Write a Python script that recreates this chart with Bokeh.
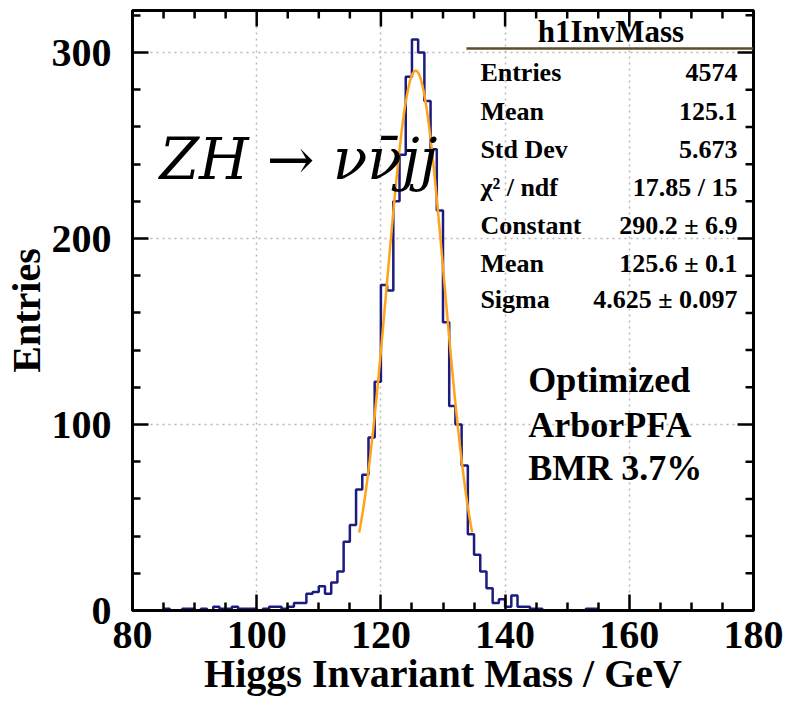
import numpy as np
from bokeh.plotting import figure
from bokeh.models import Range1d, FixedTicker, ColumnDataSource
from bokeh.core.properties import value
from bokeh.embed import file_html
from bokeh.resources import INLINE

# ---------------- data ----------------
bin_low = 80
bin_width = 1
counts = [
    0, 0, 0, 0, 0, 1, 0, 0, 1, 1,          # 80-89
    0, 1, 0, 2, 1, 1, 2, 1, 1, 1,          # 90-99
    0, 1, 2, 2, 1, 2, 4, 4, 9, 10,         # 100-109
    13, 9, 15, 21, 37, 46, 65, 73, 93, 123,  # 110-119
    175, 172, 220, 245, 287, 307, 300, 274, 248, 215,  # 120-129
    155, 110, 100, 78, 41, 30, 21, 12, 4, 6,  # 130-139
    2, 8, 2, 2, 1, 1, 0, 0, 0, 0,          # 140-149
    0, 0, 0, 1, 1, 0, 0, 0, 0, 0,          # 150-159
    0, 0, 0, 0, 0, 0, 0, 0, 0, 0,          # 160-169
    0, 0, 0, 0, 0, 0, 0, 0, 0, 0,          # 170-179
]
fit_constant = 290.2
fit_mean = 125.6
fit_sigma = 4.625
fit_lo, fit_hi = 116.5, 134.7

x_major = [80, 100, 120, 140, 160, 180]
x_minor = [85, 90, 95, 105, 110, 115, 125, 130, 135, 145, 150, 155, 165, 170, 175]
y_major = [0, 100, 200, 300]
y_minor = [20, 40, 60, 80, 120, 140, 160, 180, 220, 240, 260, 280, 320]

stats_title = "h1InvMass"
stats_labels = ["Entries", "Mean", "Std Dev", "χ² / ndf", "Constant", "Mean", "Sigma"]
stats_values = ["4574", "125.1", "5.673", "17.85 / 15", "290.2 ± 6.9", "125.6 ± 0.1", "4.625 ± 0.097"]
note_lines = ["Optimized", "ArborPFA", "BMR 3.7%"]
process_text = "ZH → νν̄jj"
x_title = "Higgs Invariant Mass / GeV"
y_title = "Entries"

# ---------------- figure ----------------
FONT = "Liberation Serif"
XMIN, XMAX = 80.0, 180.0
YMIN, YMAX = 0.0, 322.6
FRAME_W, FRAME_H = 623.0, 600.0

p = figure(width=786, height=710, output_backend="svg", toolbar_location=None,
           x_range=Range1d(XMIN, XMAX), y_range=Range1d(YMIN, YMAX),
           min_border_left=130, min_border_right=33, min_border_top=10, min_border_bottom=100)
p.outline_line_color = "black"
p.outline_line_width = 3

for ax, major, minor in ((p.xaxis[0], x_major, x_minor), (p.yaxis[0], y_major, y_minor)):
    ax.ticker = FixedTicker(ticks=major, minor_ticks=minor)
    ax.axis_line_color = "black"
    ax.axis_line_width = 3
    ax.major_tick_in = 16
    ax.major_tick_out = 0
    ax.minor_tick_in = 8
    ax.minor_tick_out = 0
    ax.major_tick_line_color = "black"
    ax.minor_tick_line_color = "black"
    ax.major_tick_line_width = 2.5
    ax.minor_tick_line_width = 2.5
    ax.major_label_text_font = FONT
    ax.major_label_text_font_style = "bold"
    ax.major_label_text_font_size = "40px"
    ax.major_label_text_color = "black"
    ax.axis_label_text_font = FONT
    ax.axis_label_text_font_style = "bold"
    ax.axis_label_text_font_size = "40px"
    ax.axis_label_text_color = "black"

p.xaxis.axis_label = x_title
p.xaxis.major_label_standoff = 11
p.xaxis.axis_label_standoff = 0
p.yaxis.axis_label = y_title
p.yaxis.major_label_standoff = 21
p.yaxis.axis_label_standoff = 0

# grids (dotted, at inner major ticks only)
p.xgrid.ticker = FixedTicker(ticks=x_major[1:-1])
p.ygrid.ticker = FixedTicker(ticks=y_major[1:])
for g in (p.xgrid, p.ygrid):
    g.grid_line_color = "#b8b8b8"
    g.grid_line_dash = "2 4"
    g.grid_line_width = 1.5

dx_per_px = (XMAX - XMIN) / FRAME_W
dy_per_px = (YMAX - YMIN) / FRAME_H

def px_to_x(px):
    return XMIN + (px - 130) * dx_per_px

def px_to_y(py):
    return YMIN + (610 - py) * dy_per_px

# ---------------- inward tick marks on top and right sides ----------------
MAJ_LEN, MIN_LEN = 16.0, 8.0
tx0, ty0, tx1, ty1 = [], [], [], []
for ticks, L in ((x_major, MAJ_LEN), (x_minor, MIN_LEN)):
    for t in ticks:
        tx0.append(float(t)); tx1.append(float(t))
        ty0.append(YMAX); ty1.append(YMAX - L * dy_per_px)
for ticks, L in ((y_major, MAJ_LEN), (y_minor, MIN_LEN)):
    for t in ticks:
        ty0.append(float(t)); ty1.append(float(t))
        tx0.append(XMAX); tx1.append(XMAX - L * dx_per_px)
tick_src = ColumnDataSource(dict(x0=tx0, y0=ty0, x1=tx1, y1=ty1))
p.segment(x0="x0", y0="y0", x1="x1", y1="y1", source=tick_src,
          line_color="black", line_width=2.5)

# histogram as step line
edges = bin_low + bin_width * np.arange(len(counts) + 1)
step_y = list(counts) + [counts[-1]]
p.step(x=edges, y=step_y, mode="after", line_color="#1c1c80", line_width=2.5)

# gaussian fit curve from the fit parameters
fx = np.linspace(fit_lo, fit_hi, 300)
fy = fit_constant * np.exp(-0.5 * ((fx - fit_mean) / fit_sigma) ** 2)
p.line(fx, fy, line_color="#ffa31a", line_width=2.5)

# ---------------- stats box (text glyphs) ----------------
p.segment(x0=[px_to_x(465)], y0=[px_to_y(48)], x1=[XMAX], y1=[px_to_y(48)],
          line_color="#5e4b2c", line_width=2.5)
p.text(x=[px_to_x(610)], y=[px_to_y(31)], text=[stats_title], text_font=value(FONT),
       text_font_style="bold", text_font_size=value("31px"), text_align="center",
       text_baseline="middle", text_color="black")
row_y = [72, 110.5, 148.5, 187, 224.5, 263, 299]
p.text(x=[px_to_x(479)] * len(stats_labels), y=[px_to_y(r) for r in row_y], text=stats_labels,
       text_font=value(FONT), text_font_style="bold", text_font_size=value("26px"),
       text_align="left", text_baseline="middle", text_color="black")
p.text(x=[px_to_x(737)] * len(stats_values), y=[px_to_y(r) for r in row_y], text=stats_values,
       text_font=value(FONT), text_font_style="bold", text_font_size=value("26px"),
       text_align="right", text_baseline="middle", text_color="black")

# ---------------- annotations ----------------
p.text(x=[px_to_x(527)] * len(note_lines), y=[px_to_y(r) for r in [379, 424, 467]], text=note_lines,
       text_font=value(FONT), text_font_style="bold", text_font_size=value("36px"),
       text_align="left", text_baseline="middle", text_color="black")

p.text(x=[px_to_x(157)], y=[px_to_y(158)], text=[process_text], text_font=value("DejaVu Serif"),
       text_font_style="italic", text_font_size=value("57px"), text_align="left",
       text_baseline="alphabetic", text_color="black")

open("out.html", "w").write(file_html(p, INLINE))
